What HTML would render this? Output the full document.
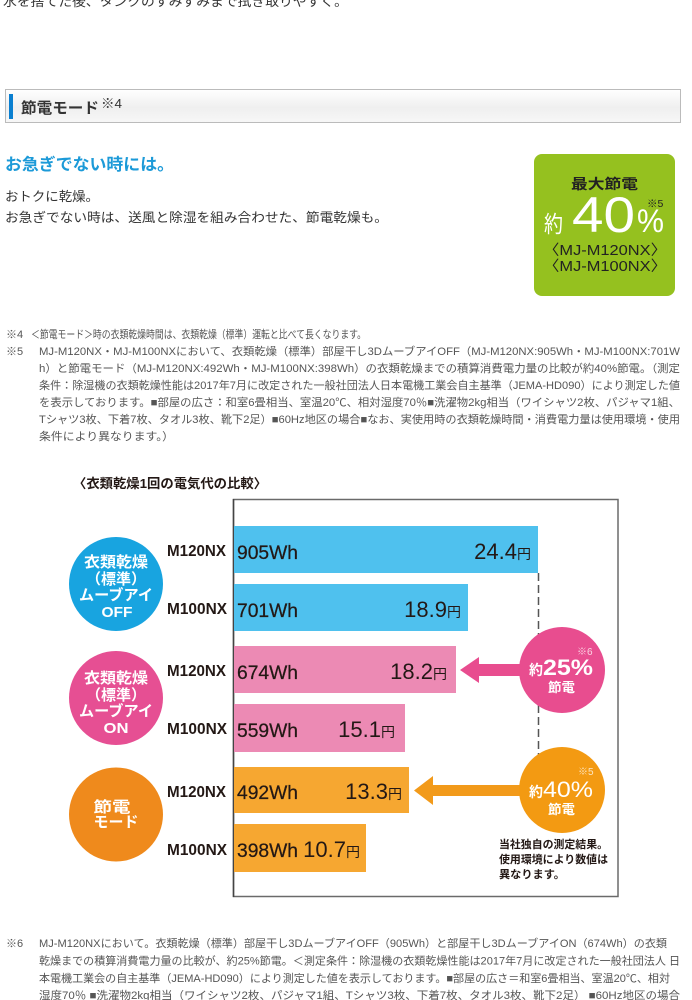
<!DOCTYPE html>
<html lang="ja">
<head>
<meta charset="utf-8">
<style>
html,body{margin:0;padding:0;background:#fff;width:692px;height:1000px;overflow:hidden;}
svg{display:block;}
text{font-family:"Liberation Sans","Noto Sans CJK JP",sans-serif;}
.fn{font-size:11px;fill:#555;}
.wh{font-size:19px;fill:#231815;stroke:#231815;stroke-width:0.25;}
.val{font-size:22px;fill:#231815;}
.yen{font-size:14px;fill:#231815;}
.mdl{font-size:16px;font-weight:bold;fill:#231815;}
.ct{font-size:15px;font-weight:bold;fill:#fff;}
</style>
</head>
<body>
<svg width="692" height="1000" viewBox="0 0 692 1000" xmlns="http://www.w3.org/2000/svg">
  <defs>
    <linearGradient id="hg" x1="0" y1="0" x2="0" y2="1">
      <stop offset="0" stop-color="#ffffff"/>
      <stop offset="0.55" stop-color="#efefef"/>
      <stop offset="1" stop-color="#f7f7f7"/>
    </linearGradient>
  </defs>

  <!-- top text -->
  <text x="3" y="6" font-size="13" fill="#333" textLength="345" lengthAdjust="spacingAndGlyphs">水を捨てた後、タンクのすみずみまで拭き取りやすく。</text>

  <!-- header -->
  <rect x="5.5" y="89.5" width="675" height="33" fill="url(#hg)" stroke="#bbb" stroke-width="1"/>
  <rect x="9" y="94" width="4" height="25" fill="#0a7fd0"/>
  <text x="21" y="113" font-size="15" font-weight="bold" fill="#333" textLength="78" lengthAdjust="spacingAndGlyphs">節電モード</text>
  <text x="101" y="108" font-size="13" fill="#333" textLength="21" lengthAdjust="spacingAndGlyphs">※4</text>

  <!-- intro -->
  <text x="5" y="170" font-size="16.5" font-weight="bold" fill="#1c9ad8" textLength="169" lengthAdjust="spacingAndGlyphs">お急ぎでない時には。</text>
  <text x="5" y="201" font-size="13" fill="#333" textLength="94" lengthAdjust="spacingAndGlyphs">おトクに乾燥。</text>
  <text x="5" y="222" font-size="13" fill="#333" textLength="383" lengthAdjust="spacingAndGlyphs">お急ぎでない時は、送風と除湿を組み合わせた、節電乾燥も。</text>

  <!-- green box -->
  <rect x="534" y="154" width="141" height="142" rx="8" ry="8" fill="#95c11f"/>
  <text x="571" y="189" font-size="14" font-weight="bold" fill="#222" textLength="67" lengthAdjust="spacingAndGlyphs">最大節電</text>
  <text x="544" y="232" font-size="23" fill="#fff" textLength="19" lengthAdjust="spacingAndGlyphs">約</text>
  <text x="572" y="232" font-size="50" fill="#fff" textLength="63" lengthAdjust="spacingAndGlyphs">40</text>
  <text x="637" y="232" font-size="32" fill="#fff" textLength="27" lengthAdjust="spacingAndGlyphs">%</text>
  <text x="647" y="207" font-size="10.5" fill="#222">※5</text>
  <text x="543" y="255" font-size="14.5" fill="#222" textLength="124" lengthAdjust="spacingAndGlyphs">〈MJ-M120NX〉</text>
  <text x="543" y="271" font-size="14.5" fill="#222" textLength="124" lengthAdjust="spacingAndGlyphs">〈MJ-M100NX〉</text>

  <!-- footnotes 4,5 -->
  <text class="fn" x="6" y="338">※4</text>
  <text class="fn" x="31" y="338" textLength="335" lengthAdjust="spacingAndGlyphs">＜節電モード＞時の衣類乾燥時間は、衣類乾燥（標準）運転と比べて長くなります。</text>
  <text class="fn" x="6" y="355">※5</text>
  <text class="fn" x="39" y="355" textLength="641" lengthAdjust="spacingAndGlyphs">MJ-M120NX・MJ-M100NXにおいて、衣類乾燥（標準）部屋干し3DムーブアイOFF（MJ-M120NX:905Wh・MJ-M100NX:701W</text>
  <text class="fn" x="39" y="372" textLength="641" lengthAdjust="spacingAndGlyphs">h）と節電モード（MJ-M120NX:492Wh・MJ-M100NX:398Wh）の衣類乾燥までの積算消費電力量の比較が約40%節電。（測定</text>
  <text class="fn" x="39" y="389" textLength="641" lengthAdjust="spacingAndGlyphs">条件：除湿機の衣類乾燥性能は2017年7月に改定された一般社団法人日本電機工業会自主基準（JEMA-HD090）により測定した値</text>
  <text class="fn" x="39" y="406" textLength="641" lengthAdjust="spacingAndGlyphs">を表示しております。■部屋の広さ：和室6畳相当、室温20℃、相対湿度70％■洗濯物2kg相当（ワイシャツ2枚、パジャマ1組、</text>
  <text class="fn" x="39" y="423" textLength="641" lengthAdjust="spacingAndGlyphs">Tシャツ3枚、下着7枚、タオル3枚、靴下2足）■60Hz地区の場合■なお、実使用時の衣類乾燥時間・消費電力量は使用環境・使用</text>
  <text class="fn" x="39" y="440" textLength="135" lengthAdjust="spacingAndGlyphs">条件により異なります。）</text>

  <!-- chart title -->
  <text x="73" y="488" font-size="13" font-weight="bold" fill="#231815" textLength="194" lengthAdjust="spacingAndGlyphs">〈衣類乾燥1回の電気代の比較〉</text>

  <!-- frame -->
  <rect x="233.5" y="499.5" width="384.5" height="397" fill="none" stroke="#6a6a6a" stroke-width="1.5"/>
  <line x1="233.5" y1="499" x2="233.5" y2="897" stroke="#444" stroke-width="1.5"/>

  <!-- bars -->
  <rect x="234" y="526" width="304" height="47" fill="#4fc1ee"/>
  <rect x="234" y="584" width="234" height="47" fill="#4fc1ee"/>
  <rect x="234" y="646" width="222" height="47" fill="#ec8ab4"/>
  <rect x="234" y="704" width="171" height="48" fill="#ec8ab4"/>
  <rect x="234" y="767" width="175" height="46" fill="#f6a731"/>
  <rect x="234" y="824" width="132" height="48" fill="#f6a731"/>

  <!-- Wh labels -->
  <text class="wh" x="237" y="559" textLength="61" lengthAdjust="spacingAndGlyphs">905Wh</text>
  <text class="wh" x="237" y="617" textLength="61" lengthAdjust="spacingAndGlyphs">701Wh</text>
  <text class="wh" x="237" y="679" textLength="61" lengthAdjust="spacingAndGlyphs">674Wh</text>
  <text class="wh" x="237" y="737" textLength="61" lengthAdjust="spacingAndGlyphs">559Wh</text>
  <text class="wh" x="237" y="799" textLength="61" lengthAdjust="spacingAndGlyphs">492Wh</text>
  <text class="wh" x="237" y="857" textLength="61" lengthAdjust="spacingAndGlyphs">398Wh</text>

  <!-- values -->
  <text x="531" y="559" text-anchor="end"><tspan class="val">24.4</tspan><tspan class="yen">円</tspan></text>
  <text x="461" y="617" text-anchor="end"><tspan class="val">18.9</tspan><tspan class="yen">円</tspan></text>
  <text x="447" y="679" text-anchor="end"><tspan class="val">18.2</tspan><tspan class="yen">円</tspan></text>
  <text x="395" y="737" text-anchor="end"><tspan class="val">15.1</tspan><tspan class="yen">円</tspan></text>
  <text x="402" y="799" text-anchor="end"><tspan class="val">13.3</tspan><tspan class="yen">円</tspan></text>
  <text x="360" y="857" text-anchor="end"><tspan class="val">10.7</tspan><tspan class="yen">円</tspan></text>

  <!-- model labels -->
  <text class="mdl" x="167" y="556" textLength="59" lengthAdjust="spacingAndGlyphs">M120NX</text>
  <text class="mdl" x="167" y="614" textLength="60" lengthAdjust="spacingAndGlyphs">M100NX</text>
  <text class="mdl" x="167" y="676" textLength="59" lengthAdjust="spacingAndGlyphs">M120NX</text>
  <text class="mdl" x="167" y="734" textLength="60" lengthAdjust="spacingAndGlyphs">M100NX</text>
  <text class="mdl" x="167" y="797" textLength="59" lengthAdjust="spacingAndGlyphs">M120NX</text>
  <text class="mdl" x="167" y="855" textLength="60" lengthAdjust="spacingAndGlyphs">M100NX</text>

  <!-- left circles -->
  <circle cx="116" cy="584" r="47" fill="#18a4e0"/>
  <text class="ct" x="116" y="567" text-anchor="middle" textLength="64" lengthAdjust="spacingAndGlyphs">衣類乾燥</text>
  <text class="ct" x="116" y="584" text-anchor="middle" textLength="60" lengthAdjust="spacingAndGlyphs">（標準）</text>
  <text class="ct" x="116" y="600" text-anchor="middle" textLength="74" lengthAdjust="spacingAndGlyphs">ムーブアイ</text>
  <text class="ct" x="117" y="617" text-anchor="middle" font-size="17" textLength="31" lengthAdjust="spacingAndGlyphs">OFF</text>

  <circle cx="116" cy="698" r="47" fill="#e64f93"/>
  <text class="ct" x="116" y="683" text-anchor="middle" textLength="64" lengthAdjust="spacingAndGlyphs">衣類乾燥</text>
  <text class="ct" x="116" y="700" text-anchor="middle" textLength="60" lengthAdjust="spacingAndGlyphs">（標準）</text>
  <text class="ct" x="116" y="716" text-anchor="middle" textLength="74" lengthAdjust="spacingAndGlyphs">ムーブアイ</text>
  <text class="ct" x="116" y="733" text-anchor="middle" font-size="17" textLength="25" lengthAdjust="spacingAndGlyphs">ON</text>

  <circle cx="116" cy="814.5" r="47" fill="#ef8a1c"/>
  <text class="ct" x="112" y="812" text-anchor="middle" textLength="37" lengthAdjust="spacingAndGlyphs">節電</text>
  <text class="ct" x="116" y="827" text-anchor="middle" textLength="45" lengthAdjust="spacingAndGlyphs">モード</text>

  <!-- dashed line -->
  <line x1="538.5" y1="573" x2="538.5" y2="755" stroke="#555" stroke-width="1.5" stroke-dasharray="8 4"/>

  <!-- arrows -->
  <polygon points="460,670 479,657 479,664 522,664 522,676 479,676 479,683" fill="#e84d8f"/>
  <polygon points="414,790.5 433,776 433,785 522,785 522,796 433,796 433,805" fill="#f29a1a"/>

  <!-- right circles -->
  <circle cx="562" cy="670" r="43" fill="#e84d8f"/>
  <text x="577" y="655" font-size="10" fill="#fbd3e3">※6</text>
  <text x="529" y="675" font-size="14" font-weight="bold" fill="#fff">約</text>
  <text x="543" y="675" font-size="22" font-weight="bold" fill="#fff" textLength="50" lengthAdjust="spacingAndGlyphs">25%</text>
  <text x="548" y="692" font-size="13" font-weight="bold" fill="#fff" textLength="27" lengthAdjust="spacingAndGlyphs">節電</text>

  <circle cx="562" cy="790" r="43" fill="#f39a12"/>
  <text x="578" y="775" font-size="10" fill="#fde5c0">※5</text>
  <text x="529" y="797" font-size="14" font-weight="bold" fill="#fff">約</text>
  <text x="543" y="797" font-size="22" fill="#fff" textLength="50" lengthAdjust="spacingAndGlyphs">40%</text>
  <text x="548" y="814" font-size="13" font-weight="bold" fill="#fff" textLength="27" lengthAdjust="spacingAndGlyphs">節電</text>

  <!-- note -->
  <text x="499" y="848" font-size="11" font-weight="bold" fill="#231815" textLength="109" lengthAdjust="spacingAndGlyphs">当社独自の測定結果。</text>
  <text x="499" y="863" font-size="11" font-weight="bold" fill="#231815" textLength="109" lengthAdjust="spacingAndGlyphs">使用環境により数値は</text>
  <text x="499" y="878" font-size="11" font-weight="bold" fill="#231815" textLength="66" lengthAdjust="spacingAndGlyphs">異なります。</text>

  <!-- footnote 6 -->
  <text class="fn" x="6" y="947">※6</text>
  <text class="fn" x="39" y="947" textLength="628" lengthAdjust="spacingAndGlyphs">MJ-M120NXにおいて。衣類乾燥（標準）部屋干し3DムーブアイOFF（905Wh）と部屋干し3DムーブアイON（674Wh）の衣類</text>
  <text class="fn" x="39" y="964.5" textLength="641" lengthAdjust="spacingAndGlyphs">乾燥までの積算消費電力量の比較が、約25%節電。＜測定条件：除湿機の衣類乾燥性能は2017年7月に改定された一般社団法人 日</text>
  <text class="fn" x="39" y="982" textLength="631" lengthAdjust="spacingAndGlyphs">本電機工業会の自主基準（JEMA-HD090）により測定した値を表示しております。■部屋の広さ＝和室6畳相当、室温20℃、相対</text>
  <text class="fn" x="39" y="999" textLength="641" lengthAdjust="spacingAndGlyphs">湿度70％ ■洗濯物2kg相当（ワイシャツ2枚、パジャマ1組、Tシャツ3枚、下着7枚、タオル3枚、靴下2足） ■60Hz地区の場合</text>
</svg>
</body>
</html>
